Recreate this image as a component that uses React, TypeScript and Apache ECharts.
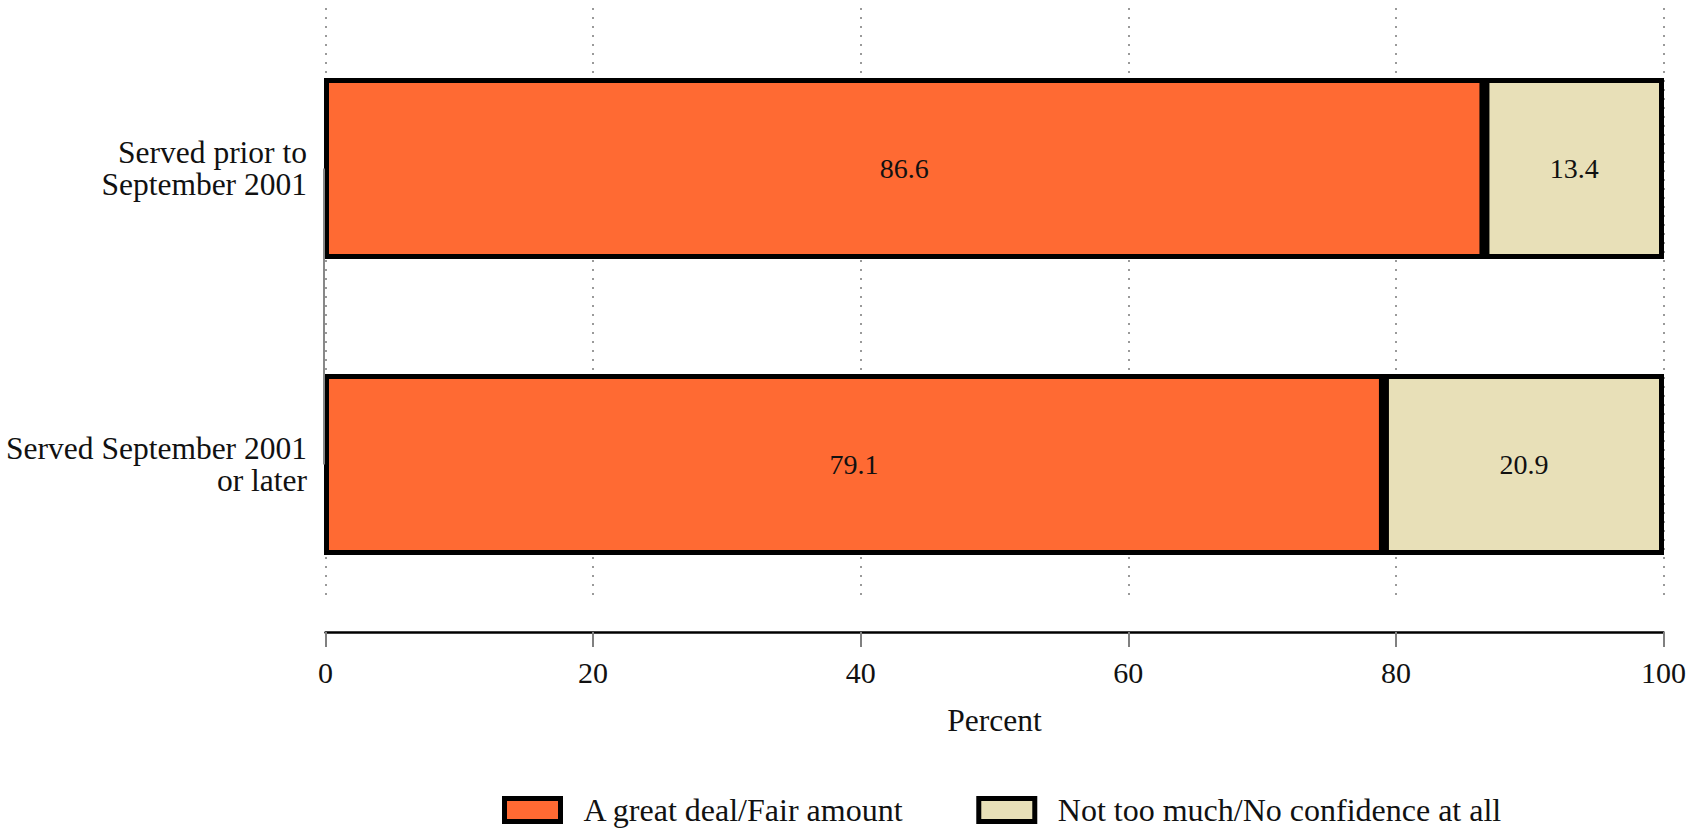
import React, { useEffect, useRef } from "react";
import * as echarts from "echarts";

const categories = ["Served prior to\nSeptember 2001", "Served September 2001\nor later"];
const greatDeal = [86.6, 79.1];
const notMuch = [13.4, 20.9];
const seriesNames = ["A great deal/Fair amount", "Not too much/No confidence at all"];
const xMin = 0;
const xMax = 100;
const xInterval = 20;

const FONT = "'Liberation Serif', 'DejaVu Serif', serif";

export default function App() {
  const ref = useRef<HTMLDivElement>(null);
  useEffect(() => {
    if (!ref.current) return;
    const chart = echarts.init(ref.current, null, { renderer: "svg" });
    const labelFmt = (p: any) => Number(p.value).toFixed(1);
    const totals = greatDeal.map((v, i) => v + notMuch[i]);
    chart.setOption({
      animation: false,
      backgroundColor: "#ffffff",
      textStyle: { fontFamily: FONT },
      grid: [
        { left: 325.5, right: 26.5, top: 8, bottom: 829 - 602 },
        { left: 324, right: 26, top: 20.5, bottom: 829 - 612.5 },
      ],
      xAxis: [
        {
          type: "value",
          gridIndex: 0,
          min: xMin,
          max: xMax,
          interval: xInterval,
          offset: 30,
          axisLine: { show: true, lineStyle: { color: "#000", width: 2.5 } },
          axisTick: { show: true, length: 15, lineStyle: { color: "#808080", width: 2 } },
          axisLabel: { fontSize: 30, color: "#111", fontFamily: FONT, margin: 25 },
          splitLine: { show: true, lineStyle: { color: "#9a9a9a", width: 2, type: [2, 7] } },
          name: "Percent",
          nameLocation: "middle",
          nameGap: 72,
          nameTextStyle: { fontSize: 31.5, color: "#111", fontFamily: FONT },
        },
        {
          type: "value",
          gridIndex: 1,
          min: xMin,
          max: xMax,
          show: false,
        },
      ],
      yAxis: [
        { type: "category", gridIndex: 0, data: categories, show: false },
        {
          type: "category",
          gridIndex: 1,
          data: categories,
          inverse: true,
          axisLine: { show: false },
          axisTick: { show: false },
          splitLine: { show: false },
          axisLabel: {
            fontSize: 31.5,
            lineHeight: 32,
            color: "#111",
            fontFamily: FONT,
            align: "right",
            margin: 17,
          },
        },
      ],
      legend: {
        data: seriesNames,
        left: 497,
        top: 789,
        icon: "rect",
        itemWidth: 56,
        itemHeight: 23,
        itemGap: 72,
        itemStyle: { borderColor: "#000", borderWidth: 5 },
        textStyle: { fontSize: 32, lineHeight: 32, color: "#111", fontFamily: FONT, padding: [0, 0, 0, 18] },
      },
      series: [
        {
          name: "outline",
          type: "bar",
          xAxisIndex: 1,
          yAxisIndex: 1,
          data: totals,
          barWidth: 181,
          barGap: "-100%",
          z: 1,
          silent: true,
          itemStyle: { color: "#000" },
        },
        {
          name: seriesNames[0],
          type: "bar",
          stack: "total",
          xAxisIndex: 1,
          yAxisIndex: 1,
          data: greatDeal,
          barWidth: 181,
          z: 2,
          itemStyle: { color: "#FF6A33", borderColor: "#000", borderWidth: 5 },
          label: { show: true, position: "inside", color: "#111", fontSize: 28, fontFamily: FONT, formatter: labelFmt },
        },
        {
          name: seriesNames[1],
          type: "bar",
          stack: "total",
          xAxisIndex: 1,
          yAxisIndex: 1,
          data: notMuch,
          barWidth: 181,
          z: 2,
          itemStyle: { color: "#E8E0B8", borderColor: "#000", borderWidth: 5 },
          label: { show: true, position: "inside", color: "#111", fontSize: 28, fontFamily: FONT, formatter: labelFmt },
        },
        {
          name: "axis",
          type: "line",
          xAxisIndex: 1,
          yAxisIndex: 1,
          data: [[0, 0], [0, 1]],
          symbol: "none",
          lineStyle: { color: "#888", width: 2 },
          z: 10,
          silent: true,
        },
      ],
    });
    return () => chart.dispose();
  }, []);
  return (
    <div
      ref={ref}
      style={{ position: "fixed", left: 0, top: 0, width: 1690, height: 829 }}
    />
  );
}
